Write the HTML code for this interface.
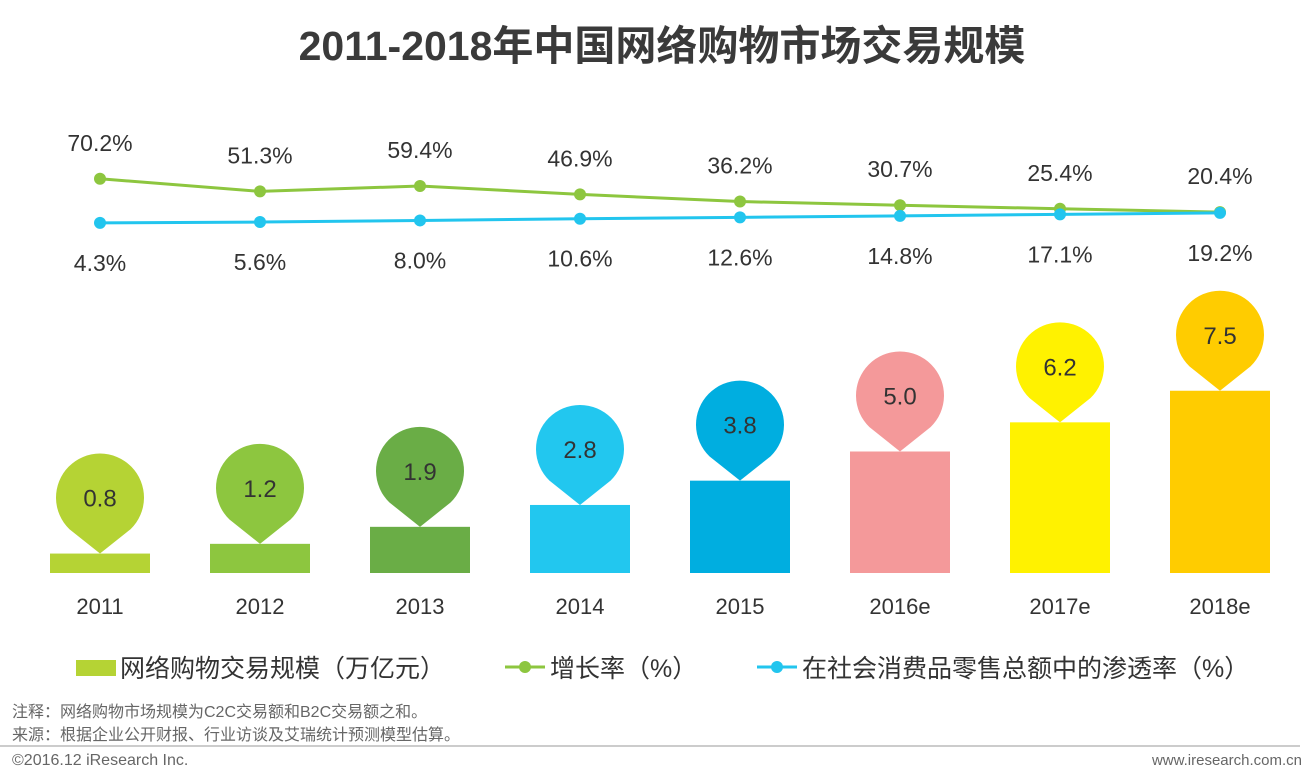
<!DOCTYPE html>
<html><head><meta charset="utf-8">
<style>
body{margin:0;background:#fff;width:1316px;height:779px;overflow:hidden;font-family:"Liberation Sans","Noto Sans CJK SC",sans-serif;}
svg{display:block}
</style></head>
<body>
<svg id="chart" width="1316" height="779" font-family="Liberation Sans, Noto Sans CJK SC, sans-serif">
<text x="662" y="60" text-anchor="middle" font-size="41" font-weight="bold" fill="#3a3a3a">2011-2018年中国网络购物市场交易规模</text>
<g id="lines"></g>
<g id="bars"></g>
<g>
<g><rect x="76" y="660" width="40" height="16" fill="#b5d334"/><text x="120" y="677" font-size="25" fill="#333">网络购物交易规模（万亿元）</text></g>
<g><line x1="505" y1="667" x2="545" y2="667" stroke="#8dc63f" stroke-width="3"/><circle cx="525" cy="667" r="6" fill="#8dc63f"/><text x="550" y="677" font-size="25" fill="#333">增长率（%）</text></g>
<g><line x1="757" y1="667" x2="797" y2="667" stroke="#22c5ee" stroke-width="3"/><circle cx="777" cy="667" r="6" fill="#22c5ee"/><text x="802" y="677" font-size="25" fill="#333">在社会消费品零售总额中的渗透率（%）</text></g>
</g>
<text x="12" y="717" font-size="16" fill="#666">注释：网络购物市场规模为C2C交易额和B2C交易额之和。</text>
<text x="12" y="740" font-size="16" fill="#666">来源：根据企业公开财报、行业访谈及艾瑞统计预测模型估算。</text>
<line x1="0" y1="746" x2="1300" y2="746" stroke="#999" stroke-width="1"/>
<text x="12" y="765" font-size="16" fill="#666">©2016.12 iResearch Inc.</text>
<text x="1302" y="765" text-anchor="end" font-size="15" fill="#666">www.iresearch.com.cn</text>
</svg>
<script>
const categories=["2011","2012","2013","2014","2015","2016e","2017e","2018e"];
const volumeValues=[0.8,1.2,1.9,2.8,3.8,5.0,6.2,7.5];
const volumeLabels=["0.8","1.2","1.9","2.8","3.8","5.0","6.2","7.5"];
const growthValues=[70.2,51.3,59.4,46.9,36.2,30.7,25.4,20.4];
const penetrationValues=[4.3,5.6,8.0,10.6,12.6,14.8,17.1,19.2];
const barColors=["#b5d334","#8dc63f","#6aad46","#22c7ef","#00aee0","#f4999a","#fff200","#ffcc00"];
const NS="http://www.w3.org/2000/svg";
const xPos=i=>100+i*160;
const yBar=v=>573-v*24.3;
const yPct=v=>225.8-0.67*v;
function mk(tag,attrs,parent){const e=document.createElementNS(NS,tag);for(const k in attrs)e.setAttribute(k,attrs[k]);parent.appendChild(e);return e;}
const bars=document.getElementById('bars');
categories.forEach((c,i)=>{
  const x=xPos(i),top=yBar(volumeValues[i]);
  const r=mk('rect',{x:x-50,y:top,width:100,height:573-top,fill:barColors[i]},bars);
  
  
  const cy=top-56,R=44;
  const a=Math.asin(0.72),dx=R*Math.cos(a),dy=R*Math.sin(a);
  const p=mk('path',{d:`M${x},${top} L${x-dx},${cy+dy} A${R},${R} 0 1 1 ${x+dx},${cy+dy} Z`,fill:barColors[i]},bars);
  
  
  const t=mk('text',{x:x,y:cy+9,'text-anchor':'middle','font-size':24,fill:'#333'},bars);t.textContent=volumeLabels[i];
  
  
  const xl=mk('text',{x:x,y:614,'text-anchor':'middle','font-size':22,fill:'#333'},bars);xl.textContent=c;
  
  
});
const lines=document.getElementById('lines');
function series(vals,color,name,above){
  const pl=mk('polyline',{points:vals.map((v,i)=>xPos(i)+','+yPct(v)).join(' '),fill:'none',stroke:color,'stroke-width':3},lines);
  
  
  vals.forEach((v,i)=>{
    const c=mk('circle',{cx:xPos(i),cy:yPct(v),r:6,fill:color},lines);
    
    
    const t=mk('text',{x:xPos(i),y:above?yPct(v)-28:yPct(v)+48,'text-anchor':'middle','font-size':23,fill:'#333'},lines);
    t.textContent=v.toFixed(1)+'%';
    
    
  });
}
series(growthValues,'#8dc63f','growth',true);
series(penetrationValues,'#22c5ee','penetration',false);
</script>
</body></html>
